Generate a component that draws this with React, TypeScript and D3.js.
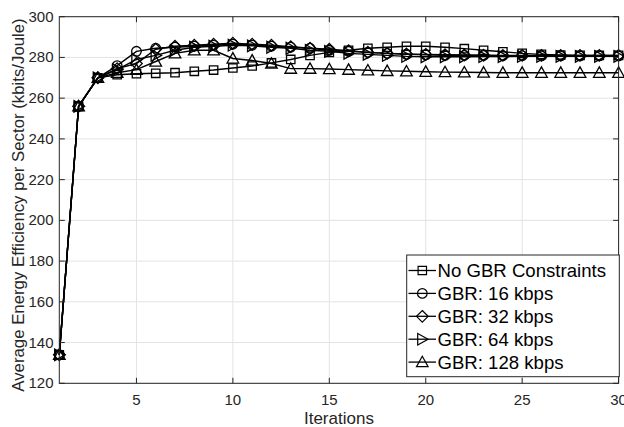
import React from 'react';
import * as d3 from 'd3';

const iterations = d3.range(1, 31);
const noGbr = [134, 256, 270, 271.5, 272, 272.2, 272.5, 273.2, 273.8, 274.8, 275.8, 277.3, 279, 281, 282.5, 283.5, 284.5, 285, 285.5, 285.5, 285, 284.3, 283.5, 282.8, 282, 281.5, 281.2, 281, 281, 281];
const gbr16 = [134, 256, 270, 276, 283, 284.5, 285, 285.5, 286, 286.5, 286, 285.5, 285, 284.5, 283.5, 283, 282.5, 282, 281.5, 281.3, 281, 281, 281, 280.9, 280.9, 280.8, 280.8, 280.8, 280.8, 280.8];
const gbr32 = [134, 256, 270, 274.5, 277, 284, 285.5, 286, 286.5, 287, 286.5, 286, 285.3, 284.5, 284, 283.3, 282.5, 282, 281.7, 281.5, 281.3, 281.2, 281.1, 281, 281, 281, 281, 281, 281, 281];
const gbr64 = [134, 256, 270, 274, 279, 281, 283.5, 285, 285.5, 286, 285.7, 285, 284.5, 283.5, 283, 282, 281.5, 281, 280.5, 280.3, 280.3, 280.3, 280.4, 280.4, 280.5, 280.5, 280.5, 280.5, 280.5, 280.5];
const gbr128 = [134, 256, 270, 272.5, 274, 278, 282, 283.5, 283.5, 279.5, 278.5, 277, 274.5, 274.5, 274.3, 274, 273.7, 273.4, 273.2, 273, 272.8, 272.7, 272.6, 272.5, 272.5, 272.5, 272.5, 272.5, 272.5, 272.5];

const seriesNames = ['No GBR Constraints', 'GBR: 16 kbps', 'GBR: 32 kbps', 'GBR: 64 kbps', 'GBR: 128 kbps'];
const seriesValues = [noGbr, gbr16, gbr32, gbr64, gbr128];
const markerKinds = ['square', 'circle', 'diamond', 'right', 'triangle'];
const xTicks = [5, 10, 15, 20, 25, 30];
const yTicks = [120, 140, 160, 180, 200, 220, 240, 260, 280, 300];

const W = 624;
const H = 427;
const left = 59.3, right = 618.6, top = 16.7, bottom = 383.3;
const font = 'Liberation Sans, Arial, Helvetica, sans-serif';

// marker outline centred on (cx, cy)
function markerPath(kind: string, cx: number, cy: number) {
  const r = 4.8;
  if (kind === 'square') {
    const s = 4.2;
    return `M${cx - s},${cy - s}h${2 * s}v${2 * s}h${-2 * s}Z`;
  }
  if (kind === 'circle') {
    return `M${cx - r},${cy}a${r},${r} 0 1,0 ${2 * r},0a${r},${r} 0 1,0 ${-2 * r},0Z`;
  }
  if (kind === 'diamond') {
    const d = 5.8;
    return `M${cx},${cy - d}L${cx + d},${cy}L${cx},${cy + d}L${cx - d},${cy}Z`;
  }
  if (kind === 'right') {
    return `M${cx + 5.8},${cy}L${cx - 4.6},${cy - 5.8}L${cx - 4.6},${cy + 5.8}Z`;
  }
  return `M${cx},${cy - 5.8}L${cx + 5.8},${cy + 4.6}L${cx - 5.8},${cy + 4.6}Z`;
}

const App = () => {
  const x = d3.scaleLinear().domain([1, 30]).range([left, right]);
  const y = d3.scaleLinear().domain([120, 300]).range([bottom, top]);
  const line = d3.line<number>().x((_, i) => x(iterations[i])).y(d => y(d));

  const legX = 406.7, legY = 255, legW = 212.6, legH = 121.7;
  const rowH = 22.9;

  return (
    <svg width={W} height={H} style={{ position: 'absolute', left: 0, top: 0, background: '#fff' }} fontFamily={font}>
      <rect x={0} y={0} width={W} height={H} fill="#fff" />
      {xTicks.map(t => (
        <line key={'gx' + t} x1={x(t)} x2={x(t)} y1={top} y2={bottom} stroke="#e3e3e3" strokeWidth={1} />
      ))}
      {yTicks.map(t => (
        <line key={'gy' + t} x1={left} x2={right} y1={y(t)} y2={y(t)} stroke="#e3e3e3" strokeWidth={1} />
      ))}
      {seriesValues.map((vals, si) => (
        <g key={'s' + si}>
          <path d={line(vals) || ''} fill="none" stroke="#000" strokeWidth={1.4} />
          {vals.map((v, i) => (
            <path key={i} d={markerPath(markerKinds[si], x(iterations[i]), y(v))} fill="none" stroke="#000" strokeWidth={1.3} />
          ))}
        </g>
      ))}
      <rect x={left} y={top} width={right - left} height={bottom - top} fill="none" stroke="#262626" strokeWidth={1} />
      {xTicks.map(t => (
        <g key={'tx' + t}>
          <line x1={x(t)} x2={x(t)} y1={bottom} y2={bottom - 5.5} stroke="#262626" />
          <line x1={x(t)} x2={x(t)} y1={top} y2={top + 5.5} stroke="#262626" />
          <text x={x(t)} y={405} fontSize={15} textAnchor="middle" fill="#262626">{t}</text>
        </g>
      ))}
      {yTicks.map(t => (
        <g key={'ty' + t}>
          <line x1={left} x2={left + 5.5} y1={y(t)} y2={y(t)} stroke="#262626" />
          <line x1={right} x2={right - 5.5} y1={y(t)} y2={y(t)} stroke="#262626" />
          <text x={53.5} y={y(t) + 5} fontSize={15} textAnchor="end" fill="#262626">{t}</text>
        </g>
      ))}
      <text x={(left + right) / 2} y={424} fontSize={17} textAnchor="middle" fill="#262626">Iterations</text>
      <text transform={`translate(24,205) rotate(-90)`} fontSize={16.8} textAnchor="middle" fill="#262626">
        Average Energy Efficiency per Sector (kbits/Joule)
      </text>
      <rect x={legX} y={legY} width={legW} height={legH} fill="#fff" stroke="#262626" strokeWidth={1} />
      {seriesNames.map((name, i) => {
        const cy = legY + 15.5 + i * rowH;
        return (
          <g key={'l' + i}>
            <line x1={408.5} x2={436} y1={cy} y2={cy} stroke="#000" strokeWidth={1.3} />
            <path d={markerPath(markerKinds[i], 422.3, cy)} fill="none" stroke="#000" strokeWidth={1.2} />
            <text x={437.5} y={cy + 6.5} fontSize={18.6} fill="#000">{name}</text>
          </g>
        );
      })}
    </svg>
  );
};

export default App;
